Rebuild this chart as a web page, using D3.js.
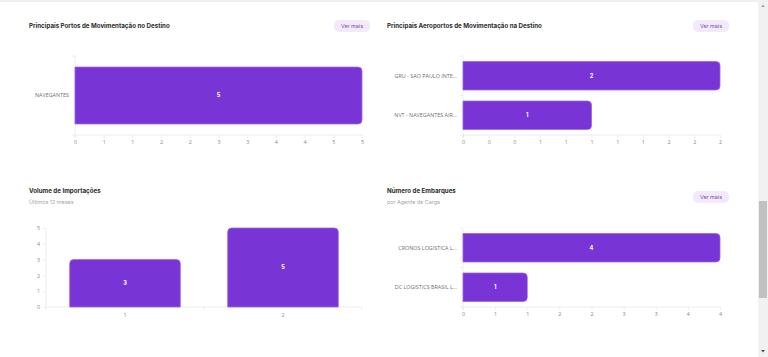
<!DOCTYPE html>
<html><head><meta charset="utf-8">
<script src="https://cdn.jsdelivr.net/npm/d3@7"></script>
<style>
html,body{margin:0;padding:0;background:#fff;overflow:hidden;}
svg{display:block;}
</style></head>
<body>
<svg id="c" width="768" height="357"></svg>
<script>
// ---- data ----
const portCategories = ["NAVEGANTES"];
const portValues = [5];
const portTicks = [0,0.5,1,1.5,2,2.5,3,3.5,4,4.5,5];

const airportCategories = ["GRU - SAO PAULO INTE...", "NVT - NAVEGANTES AIR..."];
const airportValues = [2, 1];
const airportTicks = [0,0.2,0.4,0.6,0.8,1,1.2,1.4,1.6,1.8,2];

const importCategories = ["1", "2"];
const importValues = [3, 5];
const importTicks = [0,1,2,3,4,5];

const agentCategories = ["CRONOS LOGISTICA L...", "DC LOGISTICS BRASIL L..."];
const agentValues = [4, 1];
const agentTicks = [0,0.5,1,1.5,2,2.5,3,3.5,4];

const titles = ["Principais Portos de Movimentação no Destino", "Principais Aeroportos de Movimentação na Destino", "Volume de Importações", "Número de Embarques"];
const subtitles = ["Últimos 12 meses", "por Agente de Carga"];
const buttonLabel = "Ver mais";

// ---- style ----
const BAR = "#7934d5", BAR_STROKE = "#9b66e2";
const AXIS = "#e8e8ea", TICKTXT = "#8a8a8a";
const TITLE_FONT = "Inter, 'Noto Sans', sans-serif";
const TICK_FONT = "'Open Sans', 'Noto Sans', sans-serif";

const svg = d3.select("#c");

// top border
svg.append("rect").attr("x",0).attr("y",0).attr("width",759).attr("height",2).attr("fill","#efefef");

// scrollbar
svg.append("rect").attr("x",758).attr("y",0).attr("width",10).attr("height",357).attr("fill","#f1f1f1");
svg.append("rect").attr("x",759).attr("y",201).attr("width",8).attr("height",97).attr("fill","#c1c1c1");
svg.append("path").attr("d","M761,7 L763,4.5 L765,7 Z").attr("fill","#a3a3a3");
svg.append("path").attr("d","M761,350 L763,352.5 L765,350 Z").attr("fill","#505050");

function title(x, y, t) {
  svg.append("text").attr("x",x).attr("y",y).text(t)
    .attr("font-family",TITLE_FONT).attr("font-weight",700).attr("font-size","6.2px").attr("fill","#2b2b2b");
}
function subtitle(x, y, t) {
  svg.append("text").attr("x",x).attr("y",y).text(t)
    .attr("font-family",TITLE_FONT).attr("font-size","5.4px").attr("fill","#a6a6a6");
}
function button(x, y) {
  const g = svg.append("g");
  g.append("rect").attr("x",x).attr("y",y).attr("width",36).attr("height",12).attr("rx",5).attr("fill","#f2eafb");
  g.append("text").attr("x",x+18).attr("y",y+6).attr("dy","0.35em").attr("text-anchor","middle")
    .text(buttonLabel).attr("font-family",TITLE_FONT).attr("font-size","5.4px").attr("fill","#7a4fb8");
}

function roundRightRect(x0, y0, w, h, r) {
  r = Math.min(r, w/2, h/2);
  return `M${x0},${y0} H${x0+w-r} Q${x0+w},${y0} ${x0+w},${y0+r} V${y0+h-r} Q${x0+w},${y0+h} ${x0+w-r},${y0+h} H${x0} Z`;
}
function roundTopRect(x0, y0, w, h, r) {
  r = Math.min(r, w/2, h/2);
  return `M${x0},${y0+h} V${y0+r} Q${x0},${y0} ${x0+r},${y0} H${x0+w-r} Q${x0+w},${y0} ${x0+w},${y0+r} V${y0+h} Z`;
}

function hbar(cats, vals, ticks, x0, x1, y0, y1, labelX) {
  const g = svg.append("g");
  const x = d3.scaleLinear().domain([0, d3.max(ticks)]).range([x0, x1]);
  const y = d3.scaleBand().domain(cats).range([y0, y1]).paddingInner(0.28).paddingOuter(0.14);
  g.append("line").attr("x1",x0).attr("x2",x0).attr("y1",y0).attr("y2",y1+3).attr("stroke",AXIS).attr("stroke-width",0.8);
  g.append("line").attr("x1",x0-3).attr("x2",x1).attr("y1",y1).attr("y2",y1).attr("stroke",AXIS).attr("stroke-width",0.8);
  cats.forEach((c,i)=>{
    const yy = y0 + i*y.step();
    g.append("line").attr("x1",x0-3).attr("x2",x0).attr("y1",yy).attr("y2",yy).attr("stroke",AXIS).attr("stroke-width",0.8);
  });
  const xa = g.append("g").attr("transform",`translate(0,${y1})`)
    .call(d3.axisBottom(x).tickValues(ticks).tickFormat(d=>Math.round(d)).tickSize(3).tickPadding(2.5));
  xa.select(".domain").remove();
  xa.selectAll("line").attr("stroke",AXIS).attr("stroke-width",0.8);
  xa.selectAll("text").attr("font-family",TICK_FONT).attr("font-size","5.4px").attr("fill",TICKTXT);
  g.selectAll("path.bar").data(cats).enter().append("path").attr("class","bar")
    .attr("d",(c,i)=>roundRightRect(x(0), y(c), x(vals[i])-x(0), y.bandwidth(), 4))
    .attr("fill",BAR).attr("stroke",BAR_STROKE).attr("stroke-width",0.8);
  g.selectAll("text.val").data(cats).enter().append("text").attr("class","val")
    .attr("x",(c,i)=>(x(0)+x(vals[i]))/2).attr("y",c=>y(c)+y.bandwidth()/2).attr("dy","0.35em")
    .attr("text-anchor","middle").text((c,i)=>vals[i])
    .attr("font-family",TITLE_FONT).attr("font-weight",700).attr("font-size","5.6px").attr("fill","#fff");
  g.selectAll("text.cat").data(cats).enter().append("text").attr("class","cat")
    .attr("x",labelX).attr("y",c=>y(c)+y.bandwidth()/2).attr("dy","0.35em")
    .attr("text-anchor","end").text(c=>c)
    .attr("font-family",TICK_FONT).attr("font-size","5.4px").attr("fill","#707070");
}

function vbar(cats, vals, ticks, x0, x1, y0, y1) {
  const g = svg.append("g");
  const y = d3.scaleLinear().domain([0, d3.max(ticks)]).range([y1, y0]);
  const x = d3.scaleBand().domain(cats).range([x0, x1]).paddingInner(0.3).paddingOuter(0.15);
  g.append("line").attr("x1",x0).attr("x2",x0).attr("y1",y0).attr("y2",y1).attr("stroke",AXIS).attr("stroke-width",0.8);
  g.append("line").attr("x1",x0).attr("x2",x1).attr("y1",y1).attr("y2",y1).attr("stroke",AXIS).attr("stroke-width",0.8);
  const ya = g.append("g").attr("transform",`translate(${x0},0)`)
    .call(d3.axisLeft(y).tickValues(ticks).tickFormat(d3.format("d")).tickSize(3).tickPadding(3));
  ya.select(".domain").remove();
  ya.selectAll("line").attr("stroke",AXIS).attr("stroke-width",0.8);
  ya.selectAll("text").attr("font-family",TICK_FONT).attr("font-size","5.4px").attr("fill",TICKTXT);
  for (let i=0;i<=cats.length;i++){
    const xx = x0 + i*x.step();
    g.append("line").attr("x1",xx).attr("x2",xx).attr("y1",y1).attr("y2",y1+3).attr("stroke",AXIS).attr("stroke-width",0.8);
  }
  g.selectAll("text.cat").data(cats).enter().append("text").attr("class","cat")
    .attr("x",c=>x(c)+x.bandwidth()/2).attr("y",y1+8.5).attr("dy","0.35em").attr("text-anchor","middle").text(c=>c)
    .attr("font-family",TICK_FONT).attr("font-size","5.4px").attr("fill",TICKTXT);
  g.selectAll("path.bar").data(cats).enter().append("path").attr("class","bar")
    .attr("d",(c,i)=>roundTopRect(x(c), y(vals[i]), x.bandwidth(), y(0)-y(vals[i]), 4))
    .attr("fill",BAR).attr("stroke",BAR_STROKE).attr("stroke-width",0.8);
  g.selectAll("text.val").data(cats).enter().append("text").attr("class","val")
    .attr("x",c=>x(c)+x.bandwidth()/2).attr("y",(c,i)=>(y(0)+y(vals[i]))/2).attr("dy","0.35em")
    .attr("text-anchor","middle").text((c,i)=>vals[i])
    .attr("font-family",TITLE_FONT).attr("font-weight",700).attr("font-size","5.6px").attr("fill","#fff");
}

title(29, 28, titles[0]); button(334, 20);
hbar(portCategories, portValues, portTicks, 75, 362, 56, 135, 69);

title(387, 28, titles[1]); button(693, 20);
hbar(airportCategories, airportValues, airportTicks, 463, 720, 56, 135, 457);

title(29, 193, titles[2]); subtitle(29, 204, subtitles[0]);
vbar(importCategories, importValues, importTicks, 46, 362, 228, 307);

title(387, 193, titles[3]); subtitle(387, 204, subtitles[1]); button(693, 191);
hbar(agentCategories, agentValues, agentTicks, 463, 720, 228, 307, 457);
</script>
</body></html>
